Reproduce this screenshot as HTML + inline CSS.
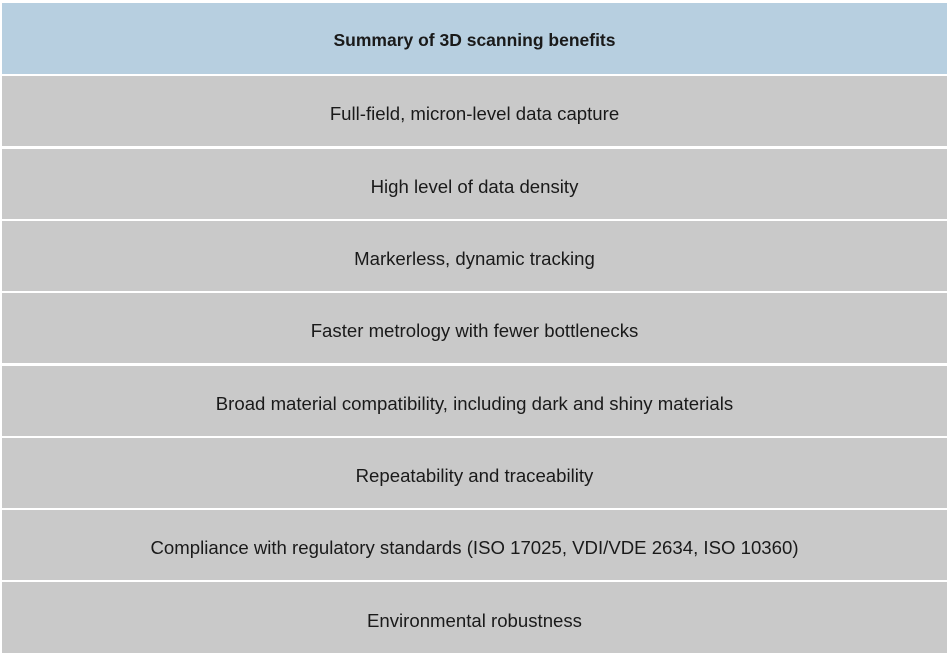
<!DOCTYPE html>
<html><head><style>
body{margin:0;width:950px;height:657px;background:#fff;position:relative;font-family:"Liberation Sans",Arial,sans-serif;color:#1a1a1a;}
.r{position:absolute;left:2px;width:945px;display:flex;align-items:center;justify-content:center;font-size:18.6px;background:#c9c9c9;box-sizing:border-box;padding-top:6px;}
.h{background:#b7cfe0;font-weight:bold;font-size:17.5px;padding-top:4px;}
</style></head><body>
<div class="r h" style="top:3px;height:71px">Summary of 3D scanning benefits</div>
<div class="r" style="top:76px;height:70px">Full-field, micron-level data capture</div>
<div class="r" style="top:149px;height:70px">High level of data density</div>
<div class="r" style="top:221px;height:70px">Markerless, dynamic tracking</div>
<div class="r" style="top:293px;height:70px">Faster metrology with fewer bottlenecks</div>
<div class="r" style="top:366px;height:70px">Broad material compatibility, including dark and shiny materials</div>
<div class="r" style="top:438px;height:70px">Repeatability and traceability</div>
<div class="r" style="top:510px;height:70px">Compliance with regulatory standards (ISO 17025, VDI/VDE 2634, ISO 10360)</div>
<div class="r" style="top:582px;height:71px">Environmental robustness</div>
</body></html>
